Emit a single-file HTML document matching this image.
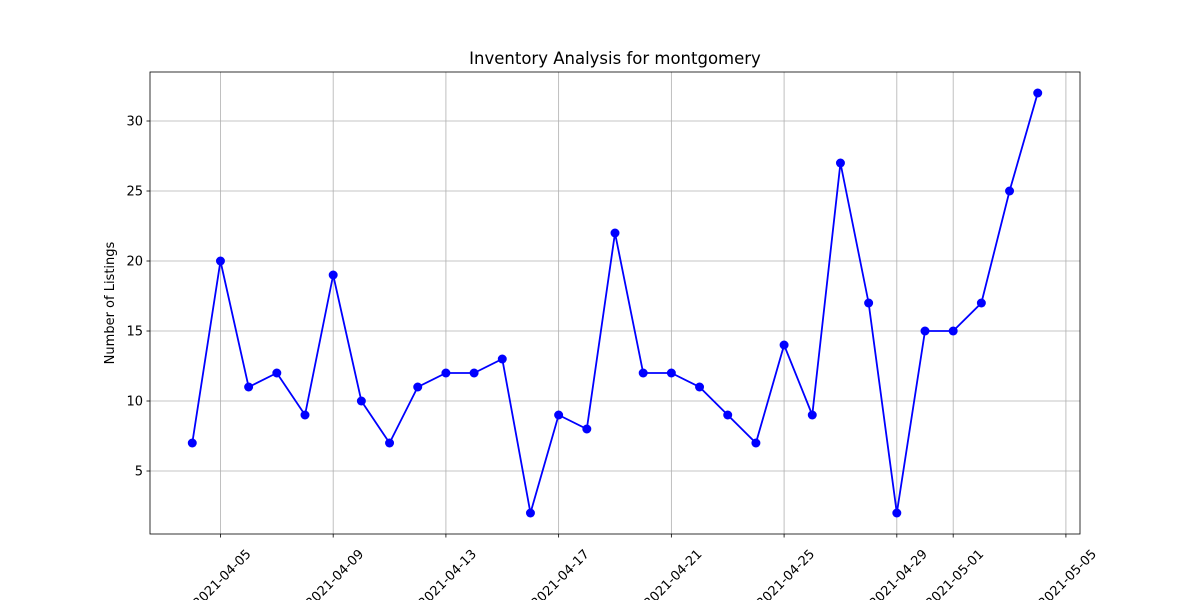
<!DOCTYPE html>
<html><head><meta charset="utf-8"><style>
body{margin:0;background:#fff}
svg{display:block;font-family:"DejaVu Sans","Liberation Sans",sans-serif}
</style></head><body>
<svg id="chart" width="1200" height="600">
<rect width="1200" height="600" fill="#fff"/>
<text x="615" y="64" font-size="16.5" text-anchor="middle">Inventory Analysis for montgomery</text>
<text transform="translate(114,303) rotate(-90)" font-size="13" text-anchor="middle">Number of Listings</text>
<g id="grid"></g><g id="series"></g><g id="axes"></g>
</svg>
<script>
const dates = ["04-04","04-05","04-06","04-07","04-08","04-09","04-10","04-11","04-12","04-13","04-14","04-15","04-16","04-17","04-18","04-19","04-20","04-21","04-22","04-23","04-24","04-25","04-26","04-27","04-28","04-29","04-30","05-01","05-02","05-03","05-04"];
const listings = [7,20,11,12,9,19,10,7,11,12,12,13,2,9,8,22,12,12,11,9,7,14,9,27,17,2,15,15,17,25,32];
const xTickDays = [1,5,9,13,17,21,25,27,31];
const xTickLabels = ["2021-04-05","2021-04-09","2021-04-13","2021-04-17","2021-04-21","2021-04-25","2021-04-29","2021-05-01","2021-05-05"];
const yTicks = [5,10,15,20,25,30];

const L=150,R=1080,T=72,B=534;
const x0=-1.5,x1=31.5,y0=0.5,y1=33.5;
const xs=d=>L+(d-x0)/(x1-x0)*(R-L);
const ys=v=>B-(v-y0)/(y1-y0)*(B-T);
const NS="http://www.w3.org/2000/svg";
function mk(tag,attrs,parent){const e=document.createElementNS(NS,tag);for(const k in attrs)e.setAttribute(k,attrs[k]);parent.appendChild(e);return e;}
const grid=document.getElementById('grid'),ser=document.getElementById('series'),ax=document.getElementById('axes');

xTickDays.forEach((d,i)=>{
  const x=xs(d);
  const g=mk('line',{x1:x,x2:x,y1:T,y2:B,stroke:'#b0b0b0','stroke-width':0.8},grid);
  
  
  const t=mk('line',{x1:x,x2:x,y1:B,y2:B+3.5,stroke:'#000','stroke-width':0.8},ax);
  
  
  const lb=mk('text',{transform:`translate(${x+2},${B+45}) rotate(-45)`,'font-size':13,'text-anchor':'middle','dominant-baseline':'middle'},ax);
  lb.textContent=xTickLabels[i];
  
  
});
yTicks.forEach(v=>{
  const y=ys(v);
  const g=mk('line',{x1:L,x2:R,y1:y,y2:y,stroke:'#b0b0b0','stroke-width':0.8},grid);
  
  
  const t=mk('line',{x1:L-3.5,x2:L,y1:y,y2:y,stroke:'#000','stroke-width':0.8},ax);
  
  
  const lb=mk('text',{x:L-7,y:y+4.5,'font-size':13,'text-anchor':'end'},ax);
  lb.textContent=v;
  
  
});
const frame=mk('rect',{x:L,y:T,width:R-L,height:B-T,fill:'none',stroke:'#000','stroke-width':0.8},ax);



const pts=listings.map((v,i)=>xs(i)+','+ys(v)).join(' ');
const line=mk('polyline',{points:pts,fill:'none',stroke:'#0000ff','stroke-width':1.8},ser);


listings.forEach((v,i)=>{
  const c=mk('circle',{cx:xs(i),cy:ys(v),r:4.5,fill:'#0000ff'},ser);
  
  
});
</script>
</body></html>
